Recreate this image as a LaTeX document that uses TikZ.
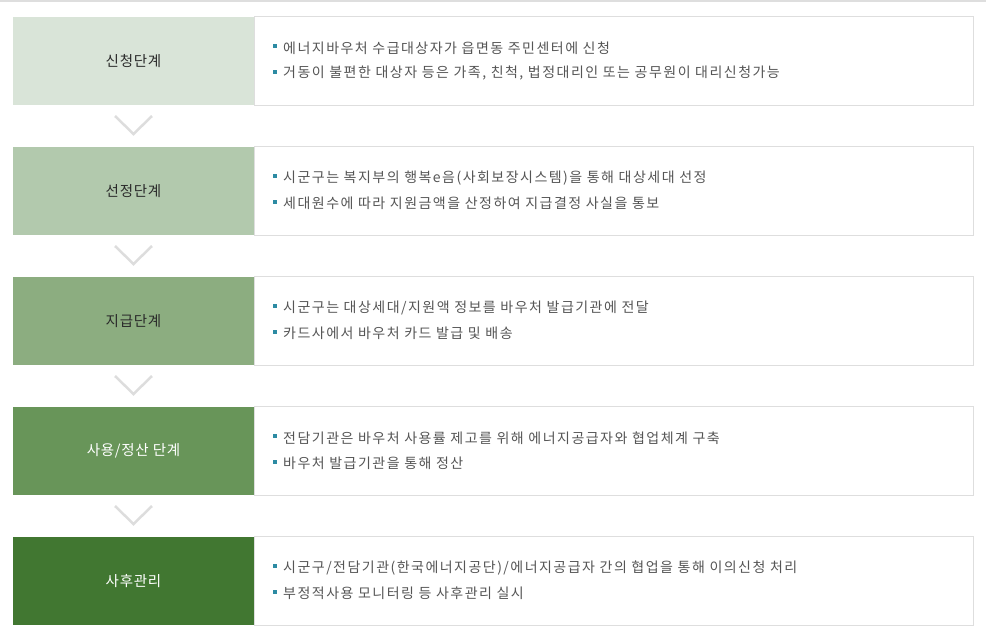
\documentclass[tikz,border=0pt]{standalone}
\usepackage{fontspec}
\newfontfamily\kr{Noto Sans CJK KR}[LetterSpace=10.5]
\newfontfamily\krlabel{Noto Sans CJK KR}[LetterSpace=5]
\usetikzlibrary{calc}
\definecolor{linegray}{HTML}{DEDEDE}
\definecolor{chevgray}{HTML}{DDDDDD}
\definecolor{textgray}{HTML}{555555}
\definecolor{labeldark}{HTML}{2A2A2A}
\definecolor{bulletblue}{HTML}{2C8BA3}
\definecolor{cA}{HTML}{D9E4D8}
\definecolor{cB}{HTML}{B2C9AD}
\definecolor{cC}{HTML}{8CAD80}
\definecolor{cD}{HTML}{689559}
\definecolor{cE}{HTML}{417731}
\tikzset{
  stage/.style={minimum width=241pt, minimum height=88pt, inner sep=0pt, outer sep=0pt,
    anchor=north west, font=\krlabel\fontsize{14.5}{17}\selectfont},
  detail/.style={draw=linegray, line width=1pt, minimum width=719pt, minimum height=89pt,
    inner sep=0pt, outer sep=0pt, anchor=north west, fill=white},
  item/.style={anchor=west, font=\kr\fontsize{14}{16}\selectfont, text=textgray, inner sep=0pt},
  bullet/.style={fill=bulletblue, minimum size=4pt, inner sep=0pt},
  chev/.style={draw=chevgray, line width=2.5pt}
}
\begin{document}
\begin{tikzpicture}[x=1pt,y=1pt]
\useasboundingbox (0,0) rectangle (986,-641);
\fill[white] (0,0) rectangle (986,-641);
\draw[linegray, line width=1.5pt] (0,-1) -- (986,-1);

% row 1
\node[detail] (d1) at (254.5,-16.5) {};
\node[stage, fill=cA, text=labeldark] (s1) at (13,-17) {신청단계};
\node[bullet] (b1a) at (274.5,-46) {};
\node[item] (t1a) at (283,-48) {에너지바우처 수급대상자가 읍면동 주민센터에 신청};
\node[bullet] (b1b) at (274.5,-72) {};
\node[item] (t1b) at (283,-73) {거동이 불편한 대상자 등은 가족, 친척, 법정대리인 또는 공무원이 대리신청가능};

% row 2
\node[detail] (d2) at (254.5,-146.5) {};
\node[stage, fill=cB, text=labeldark] (s2) at (13,-147) {선정단계};
\node[bullet] (b2a) at (274.5,-176) {};
\node[item] (t2a) at (283,-178) {시군구는 복지부의 행복e음(사회보장시스템)을 통해 대상세대 선정};
\node[bullet] (b2b) at (274.5,-202) {};
\node[item] (t2b) at (283,-203) {세대원수에 따라 지원금액을 산정하여 지급결정 사실을 통보};

% row 3
\node[detail] (d3) at (254.5,-276.5) {};
\node[stage, fill=cC, text=labeldark] (s3) at (13,-277) {지급단계};
\node[bullet] (b3a) at (274.5,-306) {};
\node[item] (t3a) at (283,-308) {시군구는 대상세대/지원액 정보를 바우처 발급기관에 전달};
\node[bullet] (b3b) at (274.5,-332) {};
\node[item] (t3b) at (283,-333) {카드사에서 바우처 카드 발급 및 배송};

% row 4
\node[detail] (d4) at (254.5,-406.5) {};
\node[stage, fill=cD, text=white] (s4) at (13,-407) {사용/정산 단계};
\node[bullet] (b4a) at (274.5,-436) {};
\node[item] (t4a) at (283,-438) {전담기관은 바우처 사용률 제고를 위해 에너지공급자와 협업체계 구축};
\node[bullet] (b4b) at (274.5,-462) {};
\node[item] (t4b) at (283,-463) {바우처 발급기관을 통해 정산};

% row 5
\node[detail] (d5) at (254.5,-536.5) {};
\node[stage, fill=cE, text=white] (s5) at (13,-537) {사후관리};
\node[bullet] (b5a) at (274.5,-566) {};
\node[item] (t5a) at (283,-568) {시군구/전담기관(한국에너지공단)/에너지공급자 간의 협업을 통해 이의신청 처리};
\node[bullet] (b5b) at (274.5,-592) {};
\node[item] (t5b) at (283,-593) {부정적사용 모니터링 등 사후관리 실시};

% chevrons
\foreach \a in {s1,s2,s3,s4}{
  \coordinate (\a tip) at ($(\a.south)+(0,-29)$);
  \draw[chev] ($(\a tip)+(-18.5,18)$) -- (\a tip) -- ($(\a tip)+(18.5,18)$);
}
\end{tikzpicture}
\end{document}
